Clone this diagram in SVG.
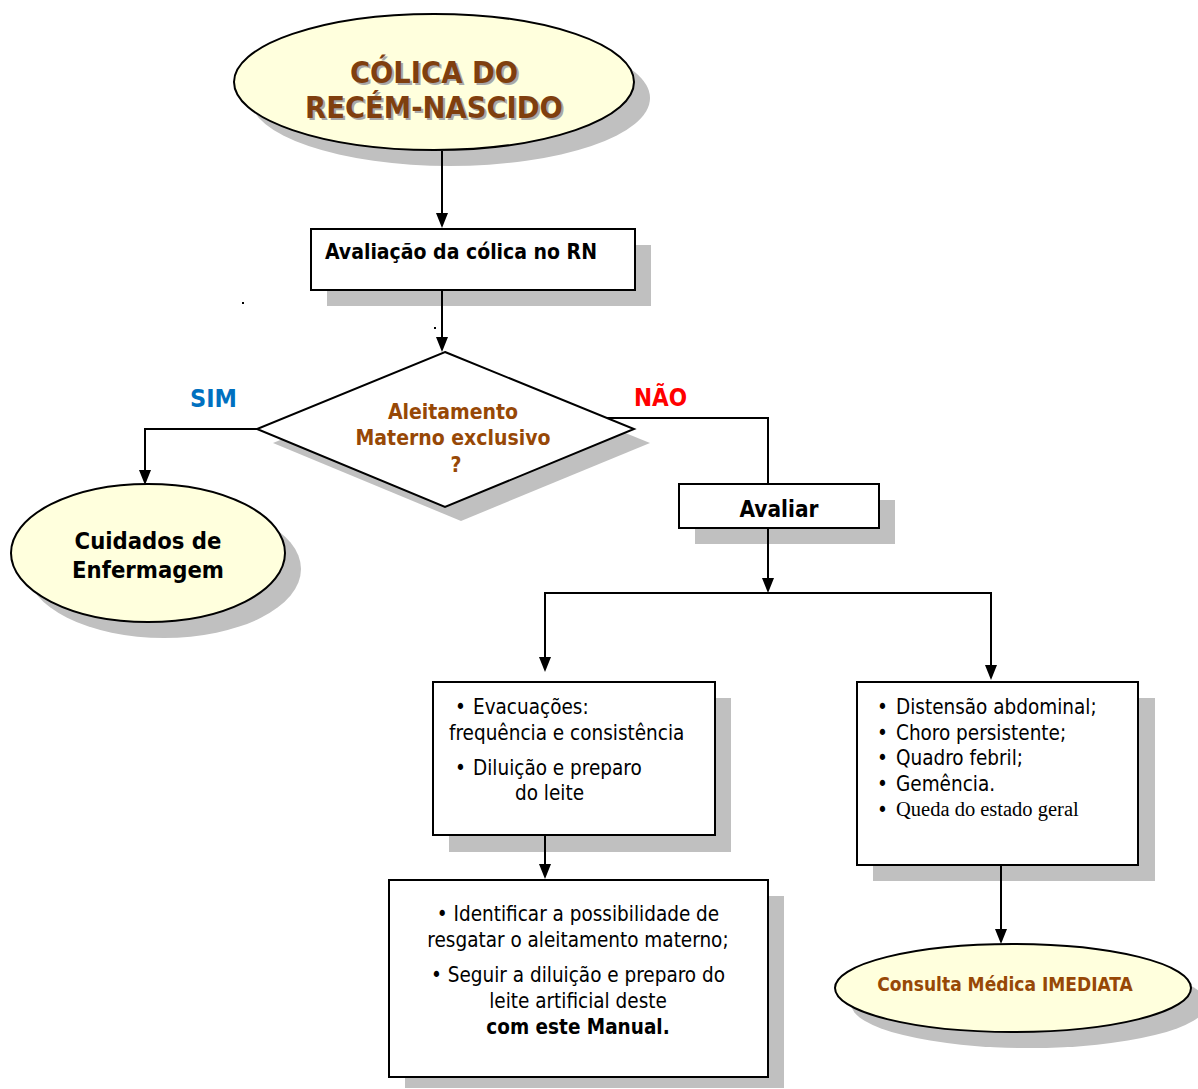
<svg xmlns="http://www.w3.org/2000/svg" width="1198" height="1089" viewBox="0 0 1198 1089">
<defs>
<style>
.sh{fill:#c0c0c0;stroke:none}
.ell{fill:#ffffdd;stroke:#000;stroke-width:2}
.box{fill:#fff;stroke:#000;stroke-width:2}
.ln{fill:none;stroke:#000;stroke-width:2}
.t{font-family:"DejaVu Sans Condensed","DejaVu Sans",sans-serif}
.b{font-weight:bold}
.brown{fill:#7f3f0f}
.orange{fill:#974806}
.reg{font-size:20.5px;fill:#000}
.serif{font-family:"Liberation Serif",serif;font-size:20.5px;fill:#000}
</style>
</defs>
<rect width="1198" height="1089" fill="#fff"/>

<g id="title">
<ellipse class="sh" cx="450" cy="98" rx="200" ry="68"/>
<ellipse class="ell" cx="434" cy="82" rx="200" ry="68"/>
<g class="t b" font-size="30.5" text-anchor="middle">
<text x="436" y="85" fill="#a8a8a8">CÓLICA DO</text>
<text x="436" y="120" fill="#a8a8a8">RECÉM-NASCIDO</text>
<text x="434" y="83" class="brown">CÓLICA DO</text>
<text x="434" y="118" class="brown">RECÉM-NASCIDO</text>
</g>
</g>

<g id="avaliacao">
<rect class="sh" x="327" y="245" width="324" height="61"/>
<rect class="box" x="311" y="229" width="324" height="61"/>
<text class="t b" x="325" y="259" font-size="21">Avaliação da cólica no RN</text>
</g>

<g id="decisao">
<polygon class="sh" points="461,366 650,443 461,521 273,443"/>
<polygon class="box" points="445,352 634,429 445,507 257,429"/>
<g class="t b orange" font-size="21" text-anchor="middle">
<text x="453" y="419">Aleitamento</text>
<text x="453" y="445">Materno exclusivo</text>
<text x="456" y="472">?</text>
</g>
<text class="t b" x="190" y="407" font-size="25" fill="#0070c0">SIM</text>
<text class="t b" x="634" y="406" font-size="24" fill="#ff0000">NÃO</text>
</g>

<g id="cuidados">
<ellipse class="sh" cx="164" cy="569" rx="137" ry="69"/>
<ellipse class="ell" cx="148" cy="553" rx="137" ry="69"/>
<g class="t b" font-size="23.6" text-anchor="middle">
<text x="148" y="549">Cuidados de</text>
<text x="148" y="578">Enfermagem</text>
</g>
</g>

<g id="avaliar">
<rect class="sh" x="695" y="500" width="200" height="44"/>
<rect class="box" x="679" y="484" width="200" height="44"/>
<text class="t b" x="779" y="517" font-size="22.4" text-anchor="middle">Avaliar</text>
</g>

<g id="box-evacuacoes">
<rect class="sh" x="449" y="698" width="282" height="154"/>
<rect class="box" x="433" y="682" width="282" height="153"/>
<g class="t reg">
<text x="455" y="714">•</text>
<text x="473" y="714">Evacuações:</text>
<text x="449" y="740">frequência e consistência</text>
<text x="455" y="775">•</text>
<text x="473" y="775">Diluição e preparo</text>
<text x="515" y="800">do leite</text>
</g>
</g>

<g id="box-identificar">
<rect class="sh" x="405" y="896" width="379" height="192"/>
<rect class="box" x="389" y="880" width="379" height="197"/>
<g class="t reg" text-anchor="middle">
<text x="578" y="921">• Identificar a possibilidade de</text>
<text x="578" y="947">resgatar o aleitamento materno;</text>
<text x="578" y="982">• Seguir a diluição e preparo do</text>
<text x="578" y="1008">leite artificial deste</text>
<text x="578" y="1034" class="b">com este Manual.</text>
</g>
</g>

<g id="box-sinais">
<rect class="sh" x="873" y="698" width="282" height="183"/>
<rect class="box" x="857" y="682" width="281" height="183"/>
<g class="t reg">
<text x="877" y="714">•</text>
<text x="896" y="714">Distensão abdominal;</text>
<text x="877" y="740">•</text>
<text x="896" y="740">Choro persistente;</text>
<text x="877" y="765">•</text>
<text x="896" y="765">Quadro febril;</text>
<text x="877" y="791">•</text>
<text x="896" y="791">Gemência.</text>
<text x="877" y="817">•</text>
</g>
<text class="serif" x="896" y="816">Queda do estado geral</text>
</g>

<g id="consulta">
<ellipse class="sh" cx="1029" cy="1004" rx="178" ry="44"/>
<ellipse class="ell" cx="1013" cy="988" rx="178" ry="44"/>
<text class="t b orange" x="1005" y="991" font-size="19" text-anchor="middle">Consulta Médica IMEDIATA</text>
</g>

<g id="connectors">
<line class="ln" x1="442" y1="151" x2="442" y2="214"/>
<path d="M436,213 L448,213 L442,228 Z"/>
<line class="ln" x1="442" y1="291" x2="442" y2="338"/>
<path d="M436,337 L448,337 L442,352 Z"/>
<polyline class="ln" points="257,429 145,429 145,471"/>
<path d="M139,470 L151,470 L145,485 Z"/>
<polyline class="ln" points="607,418 768,418 768,484"/>
<line class="ln" x1="768" y1="529" x2="768" y2="579"/>
<path d="M762,578 L774,578 L768,593 Z"/>
<polyline class="ln" points="545,658 545,593 991,593 991,666"/>
<path d="M539,657 L551,657 L545,672 Z"/>
<path d="M985,665 L997,665 L991,680 Z"/>
<line class="ln" x1="545" y1="836" x2="545" y2="865"/>
<path d="M539,864 L551,864 L545,879 Z"/>
<line class="ln" x1="1001" y1="866" x2="1001" y2="930"/>
<path d="M995,929 L1007,929 L1001,944 Z"/>
<rect x="242" y="302" width="2" height="2"/>
<rect x="434" y="327" width="2" height="2"/>
</g>
</svg>
